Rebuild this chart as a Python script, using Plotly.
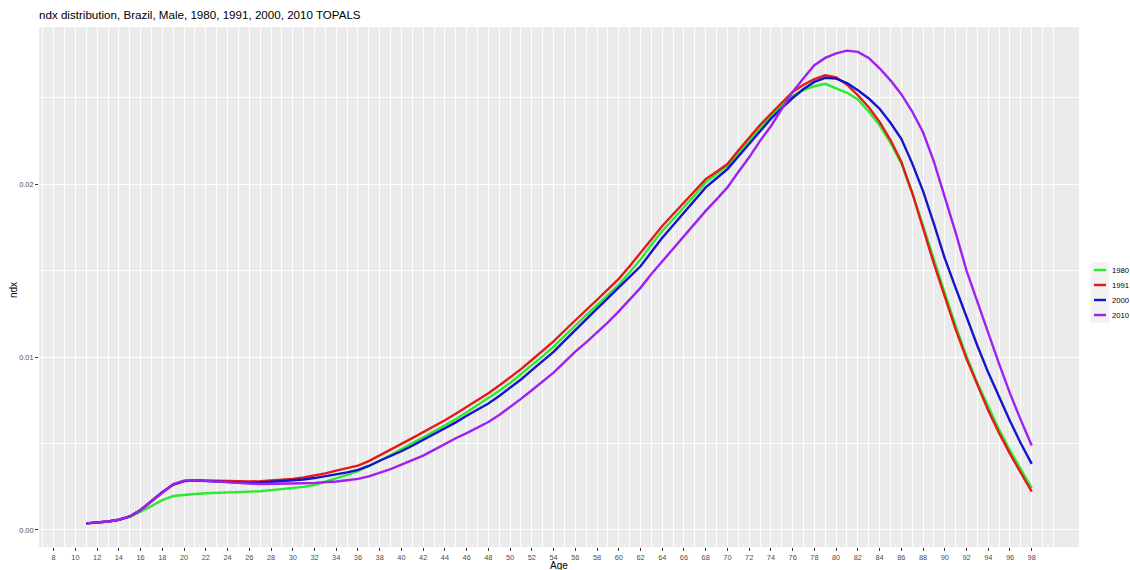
import plotly.graph_objects as go

ages = list(range(11, 99))

ndx_1980 = [0.00038, 0.00042, 0.00048, 0.00058, 0.00075, 0.00105, 0.00140, 0.00172, 0.00196, 0.00203,
            0.00208, 0.00212, 0.00214, 0.00215, 0.00216, 0.00219, 0.00224, 0.00230, 0.00235, 0.00240,
            0.00249, 0.00260, 0.00278, 0.00300, 0.00318, 0.00340, 0.00368, 0.00400, 0.00433, 0.00469,
            0.00502, 0.00535, 0.00570, 0.00605, 0.00642, 0.00680, 0.00720, 0.00760, 0.00805, 0.00850,
            0.00900, 0.00953, 0.01005, 0.01060, 0.01122, 0.01186, 0.01243, 0.01300, 0.01358, 0.01419,
            0.01490, 0.01564, 0.01650, 0.01729, 0.01797, 0.01864, 0.01937, 0.02010, 0.02058, 0.02106,
            0.02180, 0.02252, 0.02325, 0.02393, 0.02455, 0.02510, 0.02545, 0.02566, 0.02580, 0.02556,
            0.02528, 0.02490, 0.02420, 0.02340, 0.02240, 0.02120, 0.01950, 0.01760, 0.01560, 0.01370,
            0.01180, 0.01005, 0.00850, 0.00710, 0.00580, 0.00460, 0.00350, 0.00242]

ndx_1991 = [0.00038, 0.00042, 0.00049, 0.00059, 0.00078, 0.00115, 0.00165, 0.00218, 0.00262, 0.00283,
            0.00287, 0.00285, 0.00282, 0.00280, 0.00279, 0.00280, 0.00282, 0.00285, 0.00289, 0.00295,
            0.00303, 0.00313, 0.00327, 0.00343, 0.00356, 0.00372, 0.00398, 0.00430, 0.00465, 0.00498,
            0.00531, 0.00565, 0.00600, 0.00634, 0.00672, 0.00710, 0.00750, 0.00790, 0.00835, 0.00880,
            0.00930, 0.00983, 0.01035, 0.01090, 0.01152, 0.01215, 0.01272, 0.01330, 0.01390, 0.01452,
            0.01525, 0.01603, 0.01685, 0.01758, 0.01826, 0.01894, 0.01962, 0.02029, 0.02072, 0.02116,
            0.02195, 0.02271, 0.02342, 0.02407, 0.02473, 0.02533, 0.02575, 0.02607, 0.02630, 0.02618,
            0.02575, 0.02514, 0.02445, 0.02360, 0.02255, 0.02130, 0.01950, 0.01740, 0.01540, 0.01350,
            0.01160, 0.00990, 0.00835, 0.00690, 0.00560, 0.00440, 0.00330, 0.00222]

ndx_2000 = [0.00038, 0.00042, 0.00049, 0.00059, 0.00078, 0.00115, 0.00165, 0.00218, 0.00262, 0.00282,
            0.00285, 0.00283, 0.00279, 0.00276, 0.00273, 0.00272, 0.00274, 0.00278, 0.00281, 0.00285,
            0.00292, 0.00300, 0.00310, 0.00322, 0.00333, 0.00347, 0.00370, 0.00400, 0.00427, 0.00455,
            0.00487, 0.00520, 0.00552, 0.00585, 0.00622, 0.00660, 0.00695, 0.00731, 0.00775, 0.00820,
            0.00870, 0.00924, 0.00975, 0.01030, 0.01093, 0.01157, 0.01218, 0.01280, 0.01340, 0.01400,
            0.01460, 0.01525, 0.01607, 0.01690, 0.01762, 0.01835, 0.01908, 0.01981, 0.02034, 0.02087,
            0.02160, 0.02233, 0.02308, 0.02378, 0.02440, 0.02498, 0.02550, 0.02591, 0.02615, 0.02610,
            0.02585, 0.02543, 0.02495, 0.02436, 0.02355, 0.02262, 0.02120, 0.01960, 0.01770, 0.01570,
            0.01400, 0.01230, 0.01065, 0.00910, 0.00765, 0.00630, 0.00500, 0.00382]

ndx_2010 = [0.00038, 0.00042, 0.00049, 0.00059, 0.00078, 0.00115, 0.00165, 0.00218, 0.00265, 0.00285,
            0.00287, 0.00284, 0.00279, 0.00275, 0.00271, 0.00268, 0.00266, 0.00266, 0.00267, 0.00268,
            0.00270, 0.00272, 0.00275, 0.00280, 0.00287, 0.00295, 0.00310, 0.00330, 0.00352, 0.00378,
            0.00402, 0.00430, 0.00463, 0.00498, 0.00530, 0.00560, 0.00590, 0.00624, 0.00665, 0.00710,
            0.00758, 0.00808, 0.00858, 0.00910, 0.00970, 0.01031, 0.01085, 0.01140, 0.01200, 0.01264,
            0.01330, 0.01400, 0.01480, 0.01554, 0.01627, 0.01700, 0.01772, 0.01845, 0.01912, 0.01981,
            0.02070, 0.02155, 0.02250, 0.02335, 0.02435, 0.02533, 0.02612, 0.02688, 0.02730, 0.02756,
            0.02772, 0.02765, 0.02730, 0.02670, 0.02600, 0.02520, 0.02420, 0.02300, 0.02130, 0.01930,
            0.01720, 0.01500, 0.01315, 0.01140, 0.00960, 0.00790, 0.00635, 0.00488]

series_names = ["1980", "1991", "2000", "2010"]
series_values = [ndx_1980, ndx_1991, ndx_2000, ndx_2010]
series_colors = ["#2BEB2B", "#E31A1A", "#1414CC", "#A020F0"]

x_ticks = list(range(8, 99, 2))
y_ticks = [0.0, 0.01, 0.02]
y_tick_labels = ["0.00", "0.01", "0.02"]
title_text = "ndx distribution, Brazil, Male, 1980, 1991, 2000, 2010 TOPALS"
x_title = "Age"
y_title = "ndx"

FIG_W, FIG_H = 1130, 570
PL, PR, PT, PB = 39, 1079, 27, 547          # panel edges in pixels
PW, PH = PR - PL, PB - PT


def px_to_paper_x(wx):
    return (wx - PL) / PW


def px_to_paper_y(wy):
    return (PB - wy) / PH


fig = go.Figure()
for name, vals, col in zip(series_names, series_values, series_colors):
    fig.add_trace(go.Scatter(x=ages, y=vals, mode="lines", name=name,
                             line=dict(color=col, width=2.4), showlegend=False))

# ggplot-like expansion (5%)
xmin, xmax = min(ages), max(ages)
all_vals = [v for s in series_values for v in s]
ymin, ymax = min(all_vals), max(all_vals)
xpad = 0.05 * (xmax - xmin)
ypad = 0.05 * (ymax - ymin)

font_family = "Liberation Sans, Arial, sans-serif"

# Legend (ggplot style: small keys on grey key background, no title)
shapes = []
annotations = []
leg_y0 = 270
leg_step = 15
shapes.append(dict(type="rect", xref="paper", yref="paper",
                   x0=px_to_paper_x(1091), x1=px_to_paper_x(1109),
                   y0=px_to_paper_y(leg_y0 - 8), y1=px_to_paper_y(leg_y0 + 3 * leg_step + 8),
                   fillcolor="#F2F2F2", line=dict(width=0), layer="above"))
for i, (name, col) in enumerate(zip(series_names, series_colors)):
    wy = leg_y0 + i * leg_step
    shapes.append(dict(type="line", xref="paper", yref="paper",
                       x0=px_to_paper_x(1094), x1=px_to_paper_x(1106),
                       y0=px_to_paper_y(wy), y1=px_to_paper_y(wy),
                       line=dict(color=col, width=2.4), layer="above"))
    annotations.append(dict(text=name, xref="paper", yref="paper",
                            x=px_to_paper_x(1110), y=px_to_paper_y(wy),
                            xanchor="left", yanchor="middle", showarrow=False,
                            font=dict(family=font_family, size=7.7, color="black")))

annotations.append(dict(text=x_title, xref="paper", yref="paper",
                        x=px_to_paper_x(559), y=px_to_paper_y(565),
                        xanchor="center", yanchor="middle", showarrow=False,
                        font=dict(family=font_family, size=10, color="black")))
annotations.append(dict(text=y_title, xref="paper", yref="paper",
                        x=px_to_paper_x(13), y=px_to_paper_y(290), textangle=-90,
                        xanchor="center", yanchor="middle", showarrow=False,
                        font=dict(family=font_family, size=10, color="black")))

fig.update_layout(
    width=FIG_W, height=FIG_H,
    margin=dict(l=PL, r=FIG_W - PR, t=PT, b=FIG_H - PB, autoexpand=False),
    paper_bgcolor="white",
    plot_bgcolor="#EBEBEB",
    font=dict(family=font_family, color="#4D4D4D", size=9),
    title=dict(text=title_text, x=39 / FIG_W, xanchor="left", xref="container",
               y=1 - 15 / FIG_H, yanchor="middle", yref="container",
               font=dict(family=font_family, size=11.6, color="black")),
    showlegend=False,
    shapes=shapes,
    annotations=annotations,
    xaxis=dict(
        range=[xmin - xpad, xmax + xpad],
        tickmode="array", tickvals=x_ticks, ticktext=[str(t) for t in x_ticks],
        showgrid=True, gridcolor="white", gridwidth=1.1,
        minor=dict(tickmode="array", tickvals=list(range(6, 101)), showgrid=True,
                   gridcolor="white", gridwidth=0.5, ticks=""),
        ticks="outside", ticklen=3, tickcolor="#333333", tickwidth=1,
        zeroline=False, showline=False, automargin=False,
        tickfont=dict(size=7.4, color="#4D4D4D"),
    ),
    yaxis=dict(
        range=[ymin - ypad, ymax + ypad],
        tickmode="array", tickvals=y_ticks, ticktext=y_tick_labels,
        showgrid=True, gridcolor="white", gridwidth=1.1,
        minor=dict(tickmode="array", tickvals=[-0.005, 0.005, 0.015, 0.025], showgrid=True,
                   gridcolor="white", gridwidth=0.5, ticks=""),
        ticks="outside", ticklen=3, tickcolor="#333333", tickwidth=1,
        zeroline=False, showline=False, automargin=False,
        tickfont=dict(size=7.4, color="#4D4D4D"),
    ),
)

# Remove the default page margin so the figure fills the window exactly.
fig.write_html("out.html", config={"displayModeBar": False},
               post_script="document.body.style.margin='0';document.body.style.overflow='hidden';")
